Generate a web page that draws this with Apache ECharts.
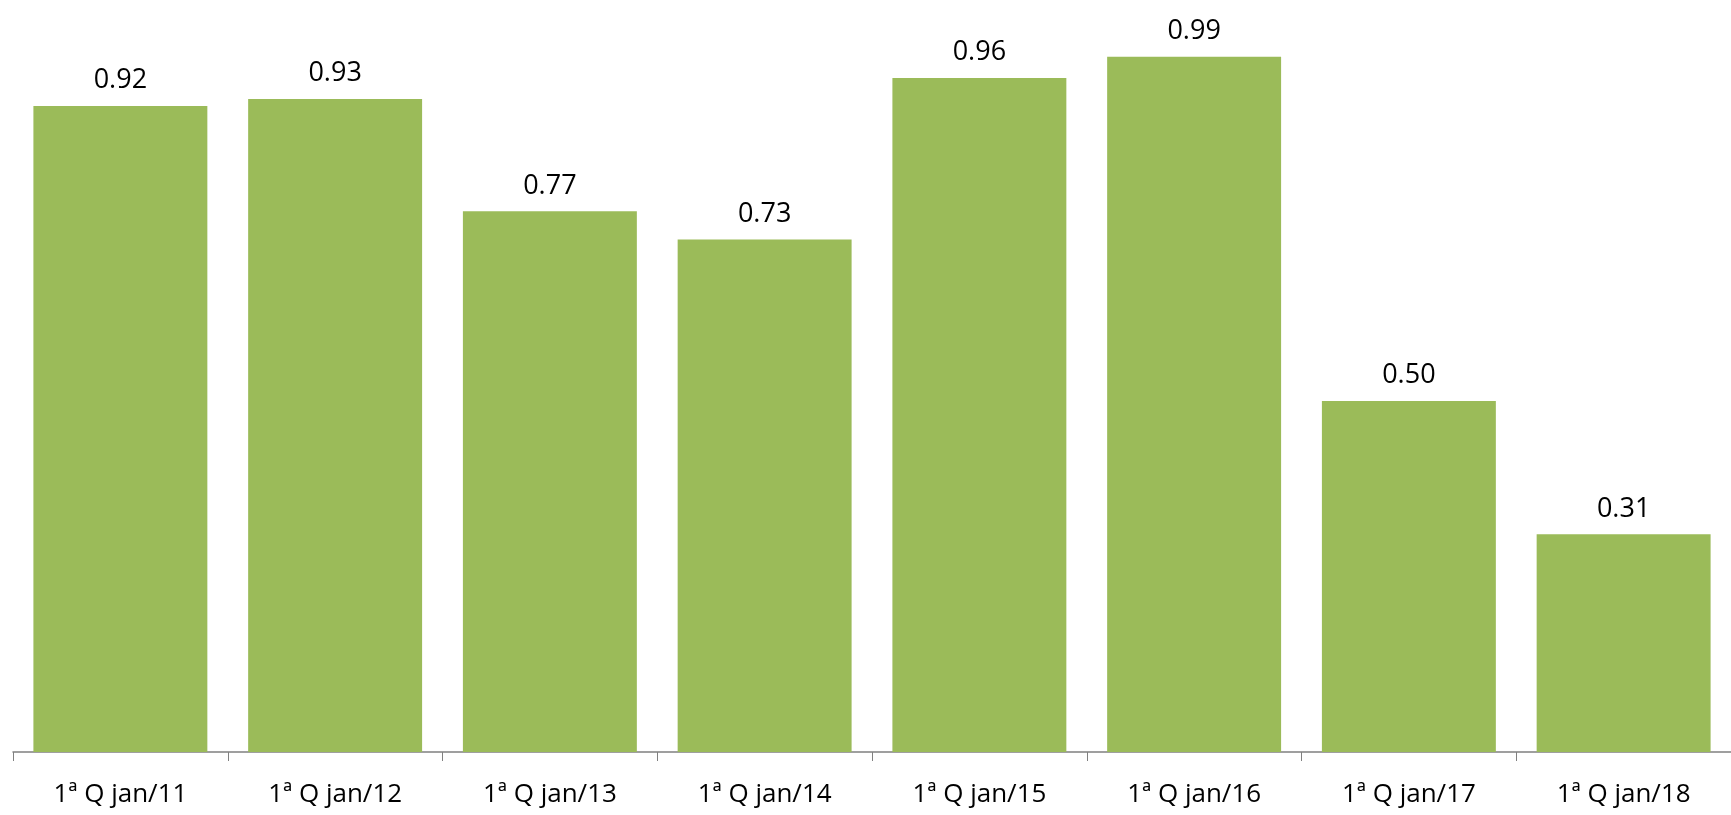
<!DOCTYPE html>
<html><head><meta charset="utf-8">
<script src="https://cdn.jsdelivr.net/npm/echarts@6/dist/echarts.min.js"></script>
<style>html,body{margin:0;padding:0;background:#fff}#c{width:1731px;height:815px}</style>
</head><body><div id="c"></div>
<script>
const categories = ["1ª Q jan/11","1ª Q jan/12","1ª Q jan/13","1ª Q jan/14","1ª Q jan/15","1ª Q jan/16","1ª Q jan/17","1ª Q jan/18"];
const values = [0.92,0.93,0.77,0.73,0.96,0.99,0.50,0.31];
const chart = echarts.init(document.getElementById('c'));
chart.setOption({
  animation:false,
  grid:{left:13,width:1728,top:0,bottom:63},
  xAxis:{type:'category',data:categories,
    axisLine:{lineStyle:{color:'#808080',width:1.5}},
    axisTick:{show:true,length:9,lineStyle:{color:'#808080'}},
    axisLabel:{color:'#000',fontSize:26,fontFamily:'Open Sans',margin:30}},
  yAxis:{type:'value',min:0,max:1.071,show:false,splitLine:{show:false}},
  series:[{type:'bar',data:values,barCategoryGap:'19%',
    itemStyle:{color:'#9BBB59'},
    label:{show:true,position:'top',distance:12,color:'#000',fontSize:27,fontFamily:'Open Sans',
      formatter:p=>p.value.toFixed(2)}}]
});
</script></body></html>
